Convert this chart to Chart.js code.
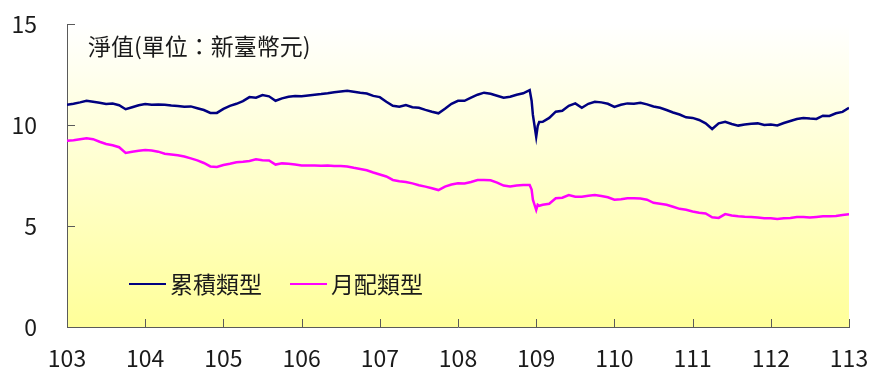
<!DOCTYPE html>
<html><head><meta charset="utf-8">
<script src="https://cdn.jsdelivr.net/npm/chart.js@4"></script>
<style>html,body{margin:0;padding:0;background:#fff}</style>
</head><body>
<canvas id="c" width="871" height="370"></canvas>
<script>
// ---- data ----
const dates = [
"103/01/01","103/02/01","103/03/01","103/04/01","103/05/01","103/06/01","103/07/01","103/08/01","103/09/01","103/10/01","103/11/01","103/12/01",
"104/01/01","104/02/01","104/03/01","104/04/01","104/05/01","104/06/01","104/07/01","104/08/01","104/09/01","104/10/01","104/11/01","104/12/01",
"105/01/01","105/02/01","105/03/01","105/04/01","105/05/01","105/06/01","105/07/01","105/08/01","105/09/01","105/10/01","105/11/01","105/12/01",
"106/01/01","106/02/01","106/03/01","106/04/01","106/05/01","106/06/01","106/07/01","106/08/01","106/09/01","106/10/01","106/11/01","106/12/01",
"107/01/01","107/02/01","107/03/01","107/04/01","107/05/01","107/06/01","107/07/01","107/08/01","107/09/01","107/10/01","107/11/01","107/12/01",
"108/01/01","108/02/01","108/03/01","108/04/01","108/05/01","108/06/01","108/07/01","108/08/01","108/09/01","108/10/01","108/11/01","108/12/01","108/12/10","108/12/16",
"109/01/01","109/01/08","109/01/15","109/02/01","109/03/01","109/04/01","109/05/01","109/06/01","109/07/01","109/08/01","109/09/01","109/10/01","109/11/01","109/12/01",
"110/01/01","110/02/01","110/03/01","110/04/01","110/05/01","110/06/01","110/07/01","110/08/01","110/09/01","110/10/01","110/11/01","110/12/01",
"111/01/01","111/02/01","111/03/01","111/04/01","111/05/01","111/06/01","111/07/01","111/08/01","111/09/01","111/10/01","111/11/01","111/12/01",
"112/01/01","112/02/01","112/03/01","112/04/01","112/05/01","112/06/01","112/07/01","112/08/01","112/09/01","112/10/01","112/11/01","112/12/01",
"113/01/01"
];
const accumulation = [
11.00,11.05,11.12,11.20,11.15,11.10,11.04,11.06,10.98,10.78,10.88,10.98,
11.04,11.00,11.02,11.00,10.96,10.94,10.90,10.92,10.83,10.74,10.60,10.60,
10.80,10.95,11.05,11.18,11.38,11.35,11.48,11.42,11.20,11.32,11.40,11.44,
11.42,11.46,11.50,11.53,11.57,11.62,11.66,11.70,11.65,11.60,11.56,11.44,
11.38,11.15,10.95,10.90,10.99,10.88,10.85,10.75,10.66,10.58,10.80,11.05,
11.20,11.20,11.35,11.50,11.60,11.55,11.45,11.35,11.40,11.50,11.57,11.73,11.20,10.50,
9.42,9.95,10.15,10.16,10.35,10.66,10.70,10.95,11.07,10.85,11.05,11.15,11.12,11.05,
10.90,11.00,11.07,11.05,11.10,11.02,10.92,10.85,10.74,10.62,10.52,10.38,
10.35,10.25,10.08,9.80,10.08,10.16,10.05,9.97,10.02,10.06,10.08,10.00,
10.02,9.98,10.10,10.20,10.30,10.35,10.32,10.30,10.46,10.45,10.58,10.65,
10.85
];
const monthlyPay = [
9.22,9.25,9.30,9.34,9.30,9.17,9.06,9.00,8.90,8.62,8.68,8.72,
8.76,8.74,8.68,8.58,8.54,8.50,8.44,8.35,8.25,8.12,7.95,7.92,
8.02,8.08,8.16,8.18,8.22,8.30,8.26,8.24,8.04,8.10,8.08,8.04,
8.00,8.00,8.00,7.98,8.00,7.97,7.97,7.95,7.88,7.82,7.76,7.65,
7.55,7.45,7.28,7.22,7.18,7.11,7.02,6.95,6.87,6.78,6.95,7.05,
7.11,7.10,7.18,7.28,7.28,7.26,7.15,7.00,6.95,7.00,7.03,7.03,6.80,6.30,
5.79,6.05,6.00,6.05,6.10,6.37,6.40,6.53,6.45,6.45,6.50,6.53,6.48,6.42,
6.30,6.33,6.37,6.37,6.36,6.30,6.15,6.10,6.05,5.95,5.85,5.80,
5.72,5.66,5.62,5.43,5.40,5.59,5.52,5.48,5.46,5.45,5.42,5.38,
5.38,5.35,5.38,5.40,5.45,5.45,5.42,5.45,5.48,5.48,5.50,5.55,
5.58
];
const seriesNames = ["累積類型","月配類型"];
const yearTicks = [103,104,105,106,107,108,109,110,111,112,113];
const valueTicks = [0,5,10,15];
const titleText = "淨值(單位：新臺幣元)";

// ---- helpers ----
function toYear(s){ const p = s.split("/").map(Number); return p[0] + (p[1]-1)/12 + (p[2]-1)/365; }
const FONT = "'Noto Sans CJK TC','Noto Sans',sans-serif";
const TXT = "#1a1a1a";
const AXIS = "#5a5a5a";

const bgPlugin = {
  id:'bg',
  beforeDraw(chart){
    const {ctx, chartArea:a} = chart;
    const g = ctx.createLinearGradient(0, a.top, 0, a.bottom);
    g.addColorStop(0, '#ffffff');
    g.addColorStop(1, '#ffff99');
    ctx.save(); ctx.fillStyle = g; ctx.fillRect(a.left, a.top, a.right-a.left, a.bottom-a.top); ctx.restore();
  }
};
const decoPlugin = {
  id:'deco',
  afterDraw(chart){
    const {ctx, chartArea:a, scales} = chart;
    ctx.save();
    ctx.strokeStyle = AXIS; ctx.lineWidth = 1;
    ctx.beginPath();
    yearTicks.forEach(v=>{ const x = Math.round(scales.x.getPixelForValue(v))+0.5; ctx.moveTo(x, a.bottom); ctx.lineTo(x, a.bottom-8); });
    valueTicks.forEach(v=>{ const y = Math.round(scales.y.getPixelForValue(v))+0.5; ctx.moveTo(a.left, y); ctx.lineTo(a.left+8, y); });
    ctx.stroke();
    // title inside plot
    ctx.fillStyle = TXT; ctx.font = "23px " + FONT; ctx.textBaseline = 'middle'; ctx.textAlign = 'left';
    ctx.fillText(titleText, 88, 46);
    // legend inside plot
    const ds = chart.data.datasets;
    const items = [{x:129, ds:ds[0]}, {x:290, ds:ds[1]}];
    items.forEach(it=>{
      ctx.strokeStyle = it.ds.borderColor; ctx.lineWidth = 2;
      ctx.beginPath(); ctx.moveTo(it.x, 284); ctx.lineTo(it.x+37, 284); ctx.stroke();
      ctx.fillStyle = TXT; ctx.fillText(it.ds.label, it.x+41, 284);
    });
    ctx.restore();
  }
};
function noPad(s){ s.paddingTop = 0; s.paddingBottom = 0; s.paddingLeft = 0; s.paddingRight = 0; }

new Chart(document.getElementById('c'), {
  type:'line',
  data:{
    datasets:[
      {label:seriesNames[0], data:dates.map((d,i)=>({x:toYear(d), y:accumulation[i]})), borderColor:'#000080', borderWidth:2.5, pointRadius:0, tension:0, fill:false},
      {label:seriesNames[1], data:dates.map((d,i)=>({x:toYear(d), y:monthlyPay[i]})), borderColor:'#ff00ff', borderWidth:2.5, pointRadius:0, tension:0, fill:false}
    ]
  },
  options:{
    responsive:false, animation:false, devicePixelRatio:1,
    layout:{padding:{top:24, right:22, left:0, bottom:0}},
    plugins:{legend:{display:false}, tooltip:{enabled:false}},
    scales:{
      x:{type:'linear', min:yearTicks[0], max:yearTicks[yearTicks.length-1],
         afterBuildTicks(s){ s.ticks = yearTicks.map(v=>({value:v})); },
         ticks:{font:{family:FONT, size:23}, color:TXT, padding:17, maxRotation:0, callback:v=>String(v)},
         grid:{display:false, drawTicks:false}, border:{display:true, color:AXIS, width:1},
         afterFit(s){ s.height = 43; noPad(s); }},
      y:{type:'linear', min:0, max:15,
         afterBuildTicks(s){ s.ticks = valueTicks.map(v=>({value:v})); },
         ticks:{font:{family:FONT, size:23}, color:TXT, padding:30},
         grid:{display:false, drawTicks:false}, border:{display:true, color:AXIS, width:1},
         afterFit(s){ s.width = 67; noPad(s); }}
    }
  },
  plugins:[bgPlugin, decoPlugin]
});
</script>
</body></html>
